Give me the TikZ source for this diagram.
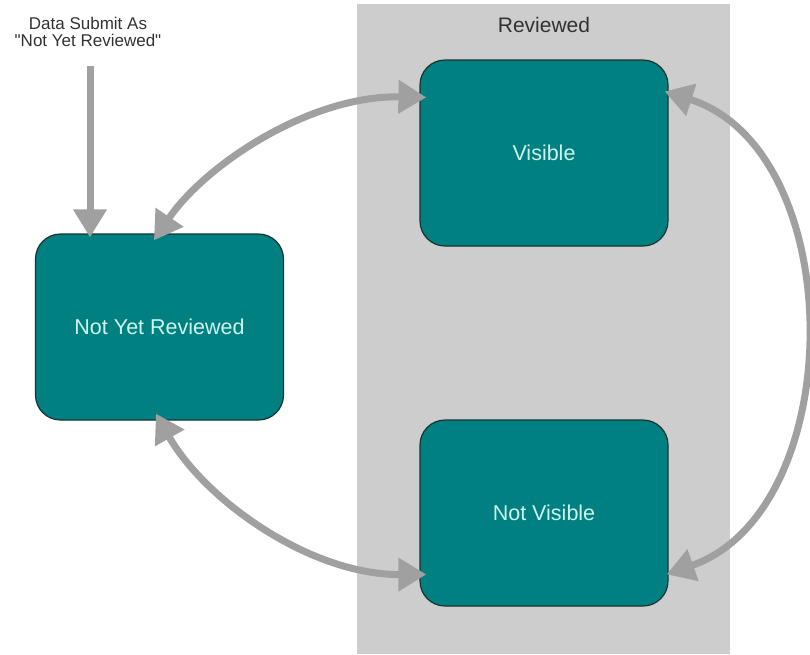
\documentclass[tikz,border=0pt]{standalone}
\usepackage{fontspec}
\setmainfont{Liberation Sans}
\newfontfamily\plainsans[Ligatures=TeXOff]{Liberation Sans}
\usetikzlibrary{arrows.meta}
\definecolor{tealbox}{RGB}{0,128,128}
\definecolor{tealedge}{RGB}{25,50,50}
\definecolor{boxtext}{RGB}{205,245,240}
\definecolor{arrowgray}{RGB}{160,160,160}
\definecolor{zonegray}{RGB}{205,205,205}
\definecolor{labelgray}{RGB}{50,50,50}
\tikzset{
  statebox/.style={draw=tealedge, line width=1.2pt, fill=tealbox, rounded corners=25pt,
    minimum width=248pt, minimum height=186pt, inner sep=0pt, text=boxtext,
    font=\fontsize{21.5}{25}\selectfont},
  flow/.style={draw=arrowgray, line width=7pt,
    -{Triangle[length=28pt,width=32pt,fill=arrowgray]}},
  bothflow/.style={draw=arrowgray, line width=7pt,
    {Triangle[length=28pt,width=32pt,fill=arrowgray]}-{Triangle[length=28pt,width=32pt,fill=arrowgray]}}
}
\begin{document}
\begin{tikzpicture}[x=1pt,y=-1pt]
\useasboundingbox (0,0) rectangle (810,654);
\fill[zonegray] (357,4) rectangle (730,654);
\node[text=labelgray, font=\fontsize{21}{24}\selectfont] (zone) at (544,25) {Reviewed};
\node[text=labelgray, font=\plainsans\fontsize{17}{17}\selectfont, align=center, inner sep=0pt] (lbl) at (88,32) {Data Submit As\\"Not Yet Reviewed"};
\node[statebox] (nyr) at (159.5,327) {Not Yet Reviewed};
\node[statebox] (vis) at (544,153) {Visible};
\node[statebox] (nvis) at (544,513) {Not Visible};
\coordinate (src) at (90,66);
\draw[flow] (src) -- ([shift={(-69.5,4)}]nyr.north);
\draw[bothflow] ([shift={(119,7)}]nyr.north west) .. controls (205,165) and (310,95) .. ([shift={(7,38)}]vis.north west);
\draw[bothflow] ([shift={(121,-7)}]nyr.south west) .. controls (205,500) and (310,575) .. ([shift={(7,155)}]nvis.north west);
\draw[bothflow] ([shift={(-4,32)}]vis.north east) .. controls (850,150) and (850,510) .. ([shift={(-2,155)}]nvis.north east);
\end{tikzpicture}
\end{document}
